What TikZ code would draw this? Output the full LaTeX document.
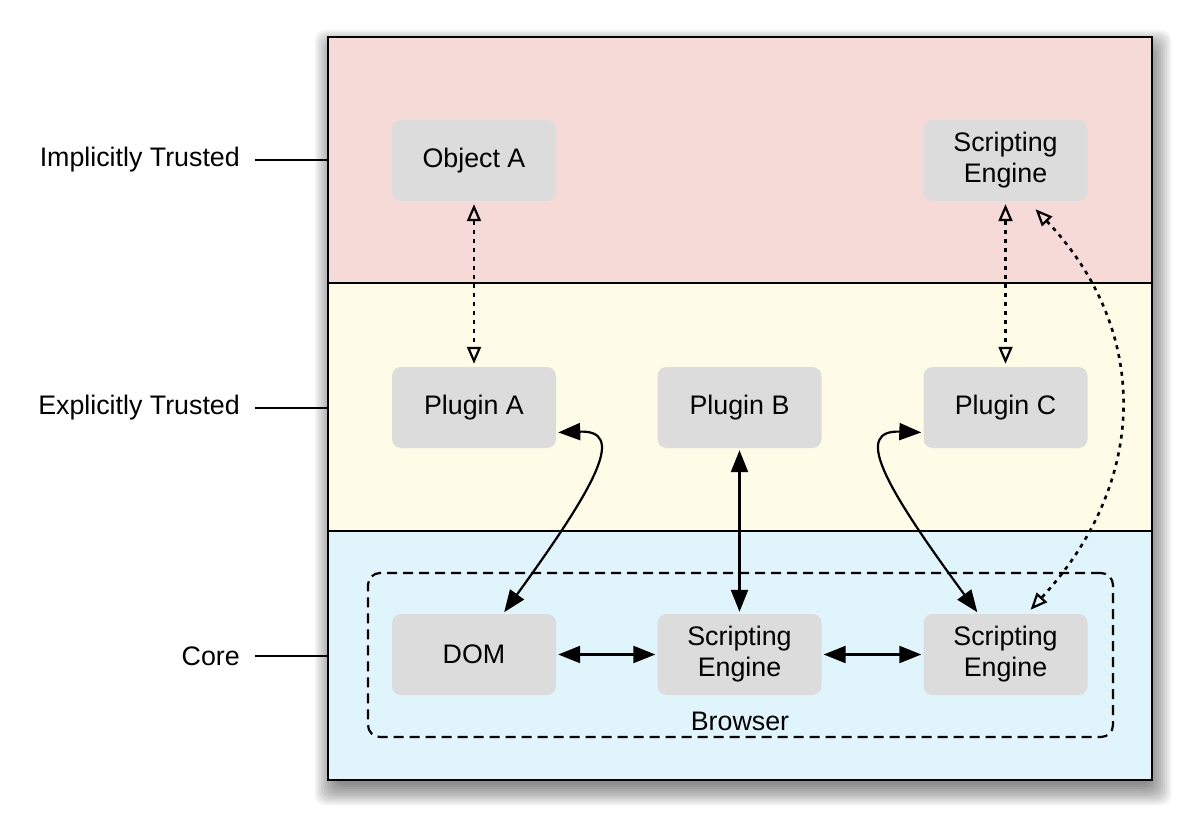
\documentclass[tikz,border=0pt]{standalone}
\usepackage{fontspec}
\setmainfont{Liberation Sans}
\usetikzlibrary{arrows.meta,calc}
\definecolor{bandred}{RGB}{246,218,216}
\definecolor{bandyellow}{RGB}{254,252,230}
\definecolor{bandblue}{RGB}{224,244,252}
\definecolor{boxgray}{RGB}{220,220,220}
\tikzset{
  comp/.style={fill=boxgray, rounded corners=9pt, minimum width=164pt, minimum height=81pt,
    align=center, inner sep=0pt, font=\fontsize{26.8}{31}\selectfont},
  lab/.style={anchor=east, inner sep=0pt, font=\fontsize{26.8}{31}\selectfont},
  solidarrow/.style={line width=2.2pt, {Triangle[length=22pt,width=17pt]}-{Triangle[length=22pt,width=17pt]}, shorten <=2pt, shorten >=2pt},
  dotarrow/.style={line width=2.6pt, dash pattern=on 4pt off 5pt,
    {Triangle[open,length=17pt,width=14pt,line width=2.2pt]}-{Triangle[open,length=17pt,width=14pt,line width=2.2pt]}},
  divider/.style={line width=2.2pt},
}
\begin{document}
\begin{tikzpicture}[x=1pt,y=1pt]
\useasboundingbox (0,0) rectangle (1199,-834);
% shadow
\foreach \r in {-16,-14,...,4}{
  \fill[black,opacity=0.05,rounded corners=10pt] (328+3+\r,-37-9-\r) rectangle (1152+3-\r,-780-9+\r);
}
% bands
\fill[bandred] (328,-37) rectangle (1152,-283);
\fill[bandyellow] (328,-283) rectangle (1152,-531);
\fill[bandblue] (328,-531) rectangle (1152,-780);
\draw[divider] (328,-283) -- (1152,-283);
\draw[divider] (328,-531) -- (1152,-531);
\node[draw, line width=2.4pt, minimum width=824pt, minimum height=743pt, inner sep=0pt] (outer) at (740,-408.5) {};
% left labels
\node[lab] (l1) at (240,-160) {Implicitly Trusted};
\node[lab] (l2) at (240,-408) {Explicitly Trusted};
\node[lab] (l3) at (240,-656) {Core};
\draw[divider] ([xshift=15pt]l1.east) -- (l1.east -| outer.west);
\draw[divider] ([xshift=15pt]l2.east) -- (l2.east -| outer.west);
\draw[divider] ([xshift=15pt]l3.east) -- (l3.east -| outer.west);
% browser box
\node[draw, line width=2.2pt, dash pattern=on 10pt off 6pt, rounded corners=12pt,
  minimum width=745pt, minimum height=164pt, inner sep=0pt] (browser) at (740.5,-655) {};
\node[inner sep=0pt, font=\fontsize{26.8}{31}\selectfont] (browserlab) at (740,-721) {Browser};
% components
\node[comp] (oa) at (474,-160.5) {Object A};
\node[comp] (set) at (1005.5,-160.5) {Scripting\\Engine};
\node[comp] (pa) at (474,-407.5) {Plugin A};
\node[comp] (pb) at (739.5,-407.5) {Plugin B};
\node[comp] (pc) at (1005.5,-407.5) {Plugin C};
\node[comp] (dom) at (474,-654.5) {DOM};
\node[comp] (sem) at (739.5,-654.5) {Scripting\\Engine};
\node[comp] (ser) at (1005.5,-654.5) {Scripting\\Engine};
% dotted connectors
\draw[dotarrow] ([yshift=-3pt]oa.south) -- ([yshift=3pt]pa.north);
\draw[dotarrow] ([yshift=-3pt]set.south) -- ([yshift=3pt]pc.north);
\draw[dotarrow] ([xshift=30pt,yshift=-8pt]set.south) .. controls (1150,-330) and (1150,-480) .. ([xshift=25pt,yshift=4pt]ser.north);
% solid connectors
\draw[solidarrow] ([yshift=-25pt]pa.east) .. controls (625,-430) and (600,-480) .. ([xshift=29pt]dom.north);
\draw[solidarrow] ([yshift=-25pt]pc.west) .. controls (855,-430) and (880,-480) .. ([xshift=-27pt]ser.north);
\draw[solidarrow] (pb.south) -- (sem.north);
\draw[solidarrow] (dom.east) -- (sem.west);
\draw[solidarrow] (sem.east) -- (ser.west);
\end{tikzpicture}
\end{document}
